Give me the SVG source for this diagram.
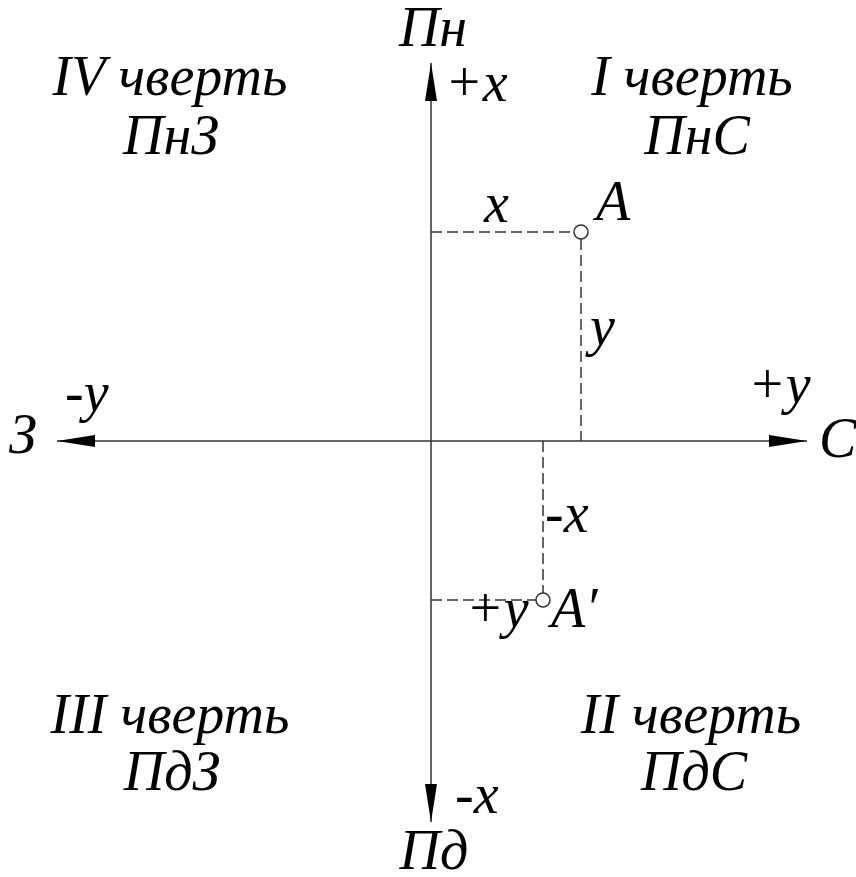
<svg xmlns="http://www.w3.org/2000/svg" width="856" height="877" viewBox="0 0 856 877">
<style>
.axis{stroke:#333;stroke-width:1.5;fill:none}
.dash{stroke:#333;stroke-width:1.5;fill:none;stroke-dasharray:11 5}
.pt{fill:#fff;stroke:#333;stroke-width:1.5}
</style>
<defs>
<marker id="ah" viewBox="0 0 38 12" refX="38" refY="6" markerWidth="38" markerHeight="12" markerUnits="userSpaceOnUse" orient="auto">
<path d="M0,0 L38,6 L0,12 Z" fill="#000"/>
</marker>
</defs>
<rect width="856" height="877" fill="#fff"/>
<g id="connectors">
<line class="axis" x1="431" y1="441" x2="431" y2="63" marker-end="url(#ah)"/>
<line class="axis" x1="431" y1="441" x2="431" y2="822" marker-end="url(#ah)"/>
<line class="axis" x1="431" y1="441" x2="57" y2="441" marker-end="url(#ah)"/>
<line class="axis" x1="431" y1="441" x2="807" y2="441" marker-end="url(#ah)"/>
<line class="dash" x1="431" y1="232" x2="574" y2="232"/>
<line class="dash" x1="581" y1="239" x2="581" y2="441"/>
<line class="dash" x1="543" y1="441" x2="543" y2="593"/>
<line class="dash" x1="431" y1="600" x2="536" y2="600"/>
</g>
<g font-family="Liberation Serif, Times New Roman, serif" font-style="italic" font-size="56" fill="#000">
<g id="axis-labels">
<text x="433" y="46" text-anchor="middle">Пн</text>
<text x="445" y="101">+x</text>
<text x="434" y="869" text-anchor="middle">Пд</text>
<text x="455" y="813">-x</text>
<text x="9" y="453">З</text>
<text x="65" y="411">-y</text>
<text x="819" y="457">С</text>
<text x="748" y="403">+y</text>
</g>
<g id="quadrant-I">
<text x="692" y="95" text-anchor="middle">I чверть</text>
<text x="697" y="154" text-anchor="middle">ПнС</text>
</g>
<g id="quadrant-II">
<text x="691" y="733" text-anchor="middle">II чверть</text>
<text x="694" y="790" text-anchor="middle">ПдС</text>
</g>
<g id="quadrant-III">
<text x="170" y="733" text-anchor="middle">III чверть</text>
<text x="172" y="790" text-anchor="middle">ПдЗ</text>
</g>
<g id="quadrant-IV">
<text x="170" y="95" text-anchor="middle">IV чверть</text>
<text x="171" y="154" text-anchor="middle">ПнЗ</text>
</g>
<g id="point-A">
<circle class="pt" cx="581" cy="232" r="7"/>
<text x="596" y="220">A</text>
<text x="484" y="222">x</text>
<text x="590" y="345">y</text>
</g>
<g id="point-A1">
<circle class="pt" cx="543" cy="600" r="7"/>
<text x="551" y="627">A′</text>
<text x="545" y="532">-x</text>
<text x="466" y="627">+y</text>
</g>
</g>
</svg>
